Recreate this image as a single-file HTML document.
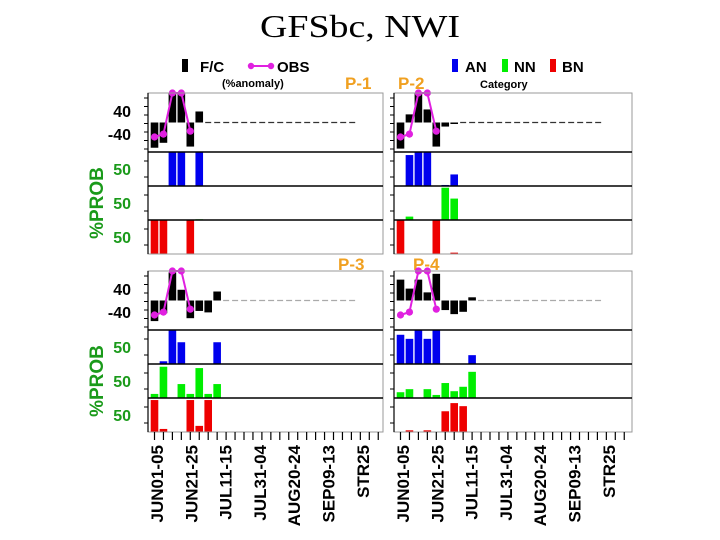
<!DOCTYPE html>
<html><head><meta charset="utf-8"><style>
body{margin:0;background:#fff;width:720px;height:540px;overflow:hidden}
svg{display:block}
text{font-family:"Liberation Sans",sans-serif}
</style></head><body>
<svg id="c" width="720" height="540" xmlns="http://www.w3.org/2000/svg">
<text x="360" y="37" text-anchor="middle" font-size="32" style="font-family:'Liberation Serif',serif" textLength="200" lengthAdjust="spacingAndGlyphs">GFSbc, NWI</text>
<g>
<rect x="182" y="59" width="6" height="13" fill="#000"/>
<text x="200" y="72" font-size="15" font-weight="bold">F/C</text>
<line x1="250" y1="66" x2="272" y2="66" stroke="#e020e0" stroke-width="2"/>
<circle cx="251" cy="66" r="3.2" fill="#e020e0"/><circle cx="271" cy="66" r="3.2" fill="#e020e0"/>
<text x="277" y="72" font-size="15" font-weight="bold">OBS</text>
<text x="222" y="87" font-size="11" font-weight="bold">(%anomaly)</text>
</g>
<g>
<rect x="452" y="59" width="6" height="13" fill="#0000ee"/>
<text x="465" y="72" font-size="15" font-weight="bold">AN</text>
<rect x="502" y="59" width="6" height="13" fill="#00ee00"/>
<text x="514" y="72" font-size="15" font-weight="bold">NN</text>
<rect x="550" y="59" width="6" height="13" fill="#ee0000"/>
<text x="562" y="72" font-size="15" font-weight="bold">BN</text>
<text x="480" y="88" font-size="11" font-weight="bold">Category</text>
</g>
<g font-size="17" font-weight="bold" fill="#f0a020">
<text x="345" y="89">P-1</text>
<text x="398" y="89">P-2</text>
<text x="338" y="270">P-3</text>
<text x="413" y="270">P-4</text>
</g>
</svg>
<script>
const categories=["JUN01-05","JUN06-10","JUN11-15","JUN16-20","JUN21-25","JUN26-30","JUL01-05","JUL06-10","JUL11-15"];
const axisLabels=["JUN01-05","JUN21-25","JUL11-15","JUL31-04","AUG20-24","SEP09-13","STR25"];
const obs=[-50,-40,105,105,-30];
const p1Fc=[-87,-70,100,100,-83,38];
const p1An=[0,0,100,100,0,100];
const p1Nn=[0,0,0,0,0,2];
const p1Bn=[100,100,0,0,100,0];
const p2Fc=[-90,28,100,45,-83,-14,-3];
const p2An=[0,91,100,100,0,3,34];
const p2Nn=[0,10,0,0,0,95,63];
const p2Bn=[100,0,0,0,100,0,4];
const p3Fc=[-71,-44,97,37,-61,-36,-41,31];
const p3An=[0,8,100,64,0,0,0,64];
const p3Nn=[12,92,0,41,12,88,12,41];
const p3Bn=[94,9,0,0,94,18,94,0];
const p4Fc=[72,41,72,28,92,-33,-47,-39,11];
const p4An=[86,74,100,74,100,0,0,0,26];
const p4Nn=[17,26,0,26,9,44,20,33,77];
const p4Bn=[0,5,0,5,0,61,85,76,0];

const S=document.getElementById('c');const NS="http://www.w3.org/2000/svg";
function mk(t,a,p){const e=document.createElementNS(NS,t);for(const k in a)e.setAttribute(k,a[k]);(p||S).appendChild(e);return e;}
function quad(name,x0,x1,top,fc,an,nn,bn,dashCol,left){
  const g=mk('g',{});
  
  
  const aTop=top,aBot=top+59,zero=top+29.5,k=0.29;
  const ph=34;
  const X=i=>x0+6.5+i*8.95;
  const yA=v=>Math.max(aTop,Math.min(aBot,zero-v*k));
  const probTops=[aBot,aBot+ph,aBot+2*ph];
  fc.forEach((v,i)=>{const y1=yA(v);const r=mk('rect',{x:X(i)-3.8,y:Math.min(y1,zero),width:7.6,height:Math.max(1.5,Math.abs(y1-zero)),fill:'#000'},g);
    
    });
  mk('line',{x1:X(fc.length)-3,y1:zero,x2:x0+208,y2:zero,stroke:dashCol,'stroke-width':1.3,'stroke-dasharray':'6,3'},g);
  let pts=obs.map((v,i)=>X(i)+','+yA(v)).join(' ');
  const pl=mk('polyline',{points:pts,fill:'none',stroke:'#e020e0','stroke-width':2},g);
  
  
  obs.forEach((v,i)=>{const c=mk('circle',{cx:X(i),cy:yA(v),r:3.6,fill:'#e020e0'},g);
    
    });
  [[an,'#0000ee','an'],[nn,'#00ee00','nn'],[bn,'#ee0000','bn']].forEach((s,j)=>{
    const bot=probTops[j]+ph;
    s[0].forEach((v,i)=>{if(v<=0)return;const h=v/100*ph;const r=mk('rect',{x:X(i)-3.8,y:bot-h,width:7.6,height:h,fill:s[1]},g);
      
      });
  });
  mk('rect',{x:x0,y:top,width:x1-x0,height:59+3*ph,fill:'none',stroke:'#999','stroke-width':1},g);
  mk('line',{x1:x0,y1:top,x2:x0,y2:top+59+3*ph,stroke:'#000','stroke-width':1.2},g);
  probTops.forEach(y=>mk('line',{x1:x0,y1:y,x2:x1,y2:y,stroke:'#000','stroke-width':1.6},g));
  for(let y=top+5;y<aBot;y+=8.5)mk('line',{x1:x0-4,y1:y,x2:x0,y2:y,stroke:'#000'},g);
  probTops.forEach(y=>{[y+9,y+25].forEach(t=>mk('line',{x1:x0-4,y1:t,x2:x0,y2:t,stroke:'#000'},g));});
  if(left){
    const lab=(t,y,nm)=>{const e=mk('text',{x:x0-17,y:y+6,'font-size':16,'font-weight':'bold','text-anchor':'end',fill:'#000'},g);e.textContent=t;
      
      };
    lab('40',zero-40*k,'y-tick-40');lab('-40',zero+40*k,'y-tick-minus40');
    probTops.forEach(y=>{const e=mk('text',{x:x0-17,y:y+23,'font-size':16,'font-weight':'bold','text-anchor':'end',fill:'#1a9a1a'},g);e.textContent='50';
      
      });
    const py=aBot+1.5*ph;
    const t=mk('text',{x:0,y:0,'font-size':19,'font-weight':'bold',fill:'#1a9a1a','text-anchor':'middle',transform:'translate('+(x0-45)+','+py+') rotate(-90)'},g);
    t.textContent='%PROB';
    
    
  }
  return {X,bottom:top+59+3*ph};
}
quad('p1',148,383,93,p1Fc,p1An,p1Nn,p1Bn,'#333',true);
quad('p2',394,632,93,p2Fc,p2An,p2Nn,p2Bn,'#333',false);
const q3=quad('p3',148,383,271,p3Fc,p3An,p3Nn,p3Bn,'#aaa',true);
const q4=quad('p4',394,632,271,p4Fc,p4An,p4Nn,p4Bn,'#aaa',false);
[q3,q4].forEach((q,qi)=>{
  const b=q.bottom;
  for(let i=0;i<26;i++)mk('line',{x1:q.X(i),y1:b,x2:q.X(i),y2:b+8,stroke:'#000','stroke-width':1.2});
  axisLabels.forEach((l,j)=>{const x=q.X(0)+2+j*34.3;
    const t=mk('text',{x:0,y:0,'font-size':17,'font-weight':'bold','text-anchor':'end',transform:'translate('+(x+6.5)+','+(b+13)+') rotate(-90)'});
    t.textContent=l;
    
    });
});
</script>
</body></html>
